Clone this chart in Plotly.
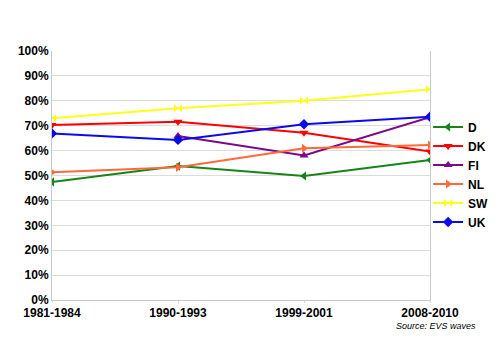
import plotly.graph_objects as go

periods = ["1981-1984", "1990-1993", "1999-2001", "2008-2010"]
series_names = ["D", "DK", "FI", "NL", "SW", "UK"]
D = [0.474, 0.538, 0.498, 0.562]
DK = [0.703, 0.716, 0.672, 0.596]
FI = [None, 0.659, 0.580, 0.734]
NL = [0.513, 0.533, 0.609, 0.622]
SW = [0.730, 0.770, 0.800, 0.846]
UK = [0.669, 0.643, 0.706, 0.736]
values = [D, DK, FI, NL, SW, UK]
colors = ["#188418", "#ff0000", "#7a0a8a", "#ff6a3a", "#ffff1a", "#0a0aee"]
symbols = ["triangle-left", "triangle-down", "triangle-up", "triangle-right", "bowtie", "diamond"]

fig = go.Figure()
for name, vals, c, s in zip(series_names, values, colors, symbols):
    fig.add_trace(go.Scatter(
        x=periods, y=vals, name=name, mode="lines+markers",
        line=dict(color=c, width=2),
        marker=dict(symbol=s, size=8, color=c),
        connectgaps=False,
    ))

font_family = "Liberation Sans, Arial, sans-serif"
fig.update_layout(
    width=500, height=354,
    margin=dict(l=52, r=70, t=51, b=54, autoexpand=False),
    plot_bgcolor="white", paper_bgcolor="white",
    font=dict(family=font_family, size=12, color="black"),
    showlegend=True,
    legend=dict(x=0.995, xanchor="left", y=0.504, yanchor="middle",
                font=dict(family=font_family, size=12, color="black", weight="bold"),
                bgcolor="rgba(0,0,0,0)", itemwidth=30, tracegroupgap=0),
    xaxis=dict(type="category", range=[0, 3], showgrid=False,
               showline=True, linecolor="#c8c8c8", linewidth=1,
               ticks="outside", ticklen=2, tickcolor="#d8d8d8",
               tickfont=dict(family=font_family, size=12, color="black", weight="bold"),
               zeroline=False, automargin=False),
    yaxis=dict(range=[0, 1], dtick=0.1, tickformat=".0%",
               showgrid=True, gridcolor="#dcdcdc", gridwidth=1,
               showline=True, linecolor="#c8c8c8", linewidth=1, mirror=True,
               ticks="", zeroline=False, automargin=False,
               tickfont=dict(family=font_family, size=12, color="black", weight="bold")),
    annotations=[dict(text="<i>Source: EVS waves</i>", xref="paper", yref="paper",
                      x=1.127, y=-0.104, xanchor="right", yanchor="middle",
                      showarrow=False, font=dict(family=font_family, size=9, color="black"))],
)

fig.write_html("out.html")
